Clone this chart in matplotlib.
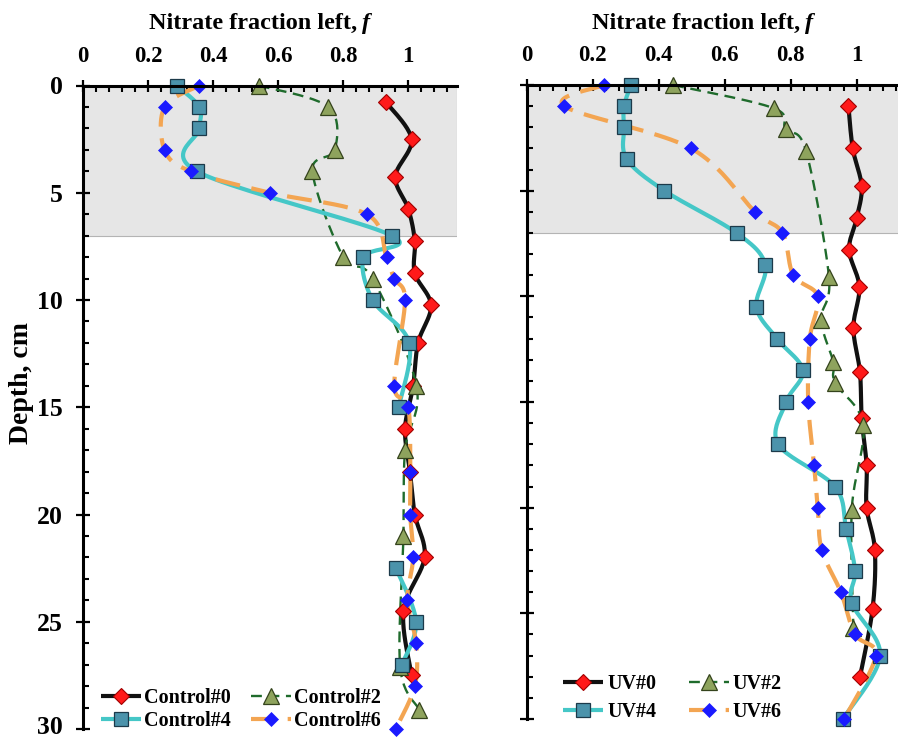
import numpy as np
import matplotlib
matplotlib.use("Agg")
import matplotlib.pyplot as plt
from matplotlib.lines import Line2D
from matplotlib.ticker import MultipleLocator, FixedLocator

plt.rcParams['font.family'] = ['Liberation Serif', 'DejaVu Serif']
plt.rcParams['font.weight'] = 'bold'

# ---------------- data ----------------
# Control panel
c0_depth = [0.75, 2.5, 4.25, 5.75, 7.25, 8.75, 10.25, 12, 14, 16, 18, 20, 22, 24.5, 27.5]
c0_f     = [0.93, 1.01, 0.96, 1.0, 1.02, 1.02, 1.07, 1.03, 1.015, 0.99, 1.005, 1.02, 1.05, 0.985, 1.01]

c2_depth = [0, 1, 3, 4, 8, 9, 14, 17, 21, 27.1, 29.1]
c2_f     = [0.54, 0.754, 0.774, 0.705, 0.80, 0.89, 1.025, 0.99, 0.985, 0.975, 1.034]

c4_depth = [0, 1, 2, 4, 7, 8, 10, 12, 15, np.nan, 22.5, 25, 27]
c4_f     = [0.287, 0.357, 0.357, 0.349, 0.949, 0.862, 0.89, 1.003, 0.97, np.nan, 0.962, 1.024, 0.98]

c6_depth = [0, 1, 3, 4, 5, 6, 8, 9, 10, 14, 15, 18, 20, 22, 24, 26, 28, 30]
c6_f     = [0.357, 0.25, 0.25, 0.331, 0.574, 0.872, 0.933, 0.956, 0.99, 0.957, 1.0, 1.006, 1.006, 1.015, 0.997, 1.024, 1.02, 0.961]

# UV panel
u0_depth = [1.0, 3.0, 4.8, 6.3, 7.8, 9.55, 11.5, 13.6, 15.75, 18.0, 20.0, 22.0, 24.8, 28.0]
u0_f     = [0.975, 0.988, 1.015, 1.0, 0.977, 1.008, 0.99, 1.01, 1.015, 1.03, 1.03, 1.055, 1.048, 1.01]

u2_depth = [0, 1.1, 2.1, 3.1, 9.1, 11.1, 13.1, 14.1, 16.1, 20.1, 25.7]
u2_f     = [0.444, 0.749, 0.785, 0.846, 0.916, 0.892, 0.929, 0.935, 1.02, 0.985, 0.99]

u4_depth = [0, 1, 2, 3.5, 5, 7, 8.5, 10.5, 12, 13.5, 15, 17, 19, 21, 23, 24.5, 27, 30]
u4_f     = [0.316, 0.295, 0.295, 0.303, 0.417, 0.636, 0.723, 0.696, 0.758, 0.837, 0.786, 0.762, 0.934, 0.968, 0.995, 0.985, 1.071, 0.958]

u6_depth = [0, 1, 3, 6, 7, 9, 10, 12, 15, 18, 20, 22, 24, 26, 27, 30]
u6_f     = [0.235, 0.114, 0.498, 0.692, 0.775, 0.808, 0.882, 0.858, 0.853, 0.871, 0.882, 0.894, 0.952, 0.995, 1.058, 0.962]

ctrl_labels = ['Control#0', 'Control#2', 'Control#4', 'Control#6']
uv_labels = ['UV#0', 'UV#2', 'UV#4', 'UV#6']
x_ticks = [0, 0.2, 0.4, 0.6, 0.8, 1]
x_ticklabels = ['0', '0.2', '0.4', '0.6', '0.8', '1']
y_ticks = [0, 5, 10, 15, 20, 25, 30]
y_ticklabels = ['0', '5', '10', '15', '20', '25', '30']
title_text = 'Nitrate fraction left,'
ylabel_text = 'Depth, cm'
shade_depth = 7

# ---------------- styles ----------------
styles = [
    dict(color='#111111', lw=3.0, ls='-', dashes=None,
         marker='D', ms=8.2, mfc='#ff1a1a', mec='#a00000', mew=0.8),
    dict(color='#1f6b2c', lw=1.7, ls='--', dashes=(4.6, 2.8),
         marker='^', ms=11.5, mfc='#8ea35d', mec='#34431c', mew=0.9),
    dict(color='#45c7c7', lw=3.0, ls='-', dashes=None,
         marker='s', ms=9.8, mfc='#4b93ab', mec='#1c3a4a', mew=0.9),
    dict(color='#f3a552', lw=3.0, ls='--', dashes=(6, 2.8),
         marker='D', ms=7.6, mfc='#1a1aff', mec='#1a1aff', mew=0.5),
]


def smooth(xs, ys, sx, sy, n=24):
    """Bezier (Catmull-Rom style) smoothing like spreadsheet smoothed lines."""
    xs = np.asarray(xs, float)
    ys = np.asarray(ys, float)
    outx, outy = [], []
    good = ~(np.isnan(xs) | np.isnan(ys))
    idx = np.where(good)[0]
    segs = np.split(idx, np.where(np.diff(idx) != 1)[0] + 1)
    for seg in segs:
        if len(seg) < 2:
            continue
        P = np.column_stack([xs[seg] * sx, ys[seg] * sy])
        pts = []
        t = np.linspace(0, 1, n)[:, None]
        for i in range(len(P) - 1):
            p0 = P[i - 1] if i > 0 else P[i]
            p1, p2 = P[i], P[i + 1]
            p3 = P[i + 2] if i + 2 < len(P) else P[i + 1]
            c1 = p1 + (p2 - p0) / 6.0
            c2 = p2 - (p3 - p1) / 6.0
            b = ((1 - t) ** 3) * p1 + 3 * ((1 - t) ** 2) * t * c1 + 3 * (1 - t) * t ** 2 * c2 + t ** 3 * p2
            pts.append(b if i == 0 else b[1:])
        arr = np.vstack(pts)
        outx.extend(list(arr[:, 0] / sx) + [np.nan])
        outy.extend(list(arr[:, 1] / sy) + [np.nan])
    return np.array(outx), np.array(outy)


W, H = 898, 739
fig = plt.figure(figsize=(W / 100, H / 100), dpi=100)


def px_axes(x0, x1, y0, y1):
    return fig.add_axes([x0 / W, 1 - y1 / H, (x1 - x0) / W, (y1 - y0) / H])


XMAX = 1.15
ax1 = px_axes(83.3, 83.3 + 325 * XMAX, 85.5, 729)
ax2 = px_axes(526.7, 526.7 + 330 * XMAX, 85, 719)


def style_axes(ax, show_ylabels):
    ax.set_xlim(0, XMAX)
    ax.set_ylim(30, 0)
    ax.axhspan(0, shade_depth, facecolor='#e6e6e6', edgecolor='#b4b4b4', lw=0.8, zorder=0)
    ax.xaxis.tick_top()
    for s in ['bottom', 'right']:
        ax.spines[s].set_visible(False)
    for s in ['top', 'left']:
        ax.spines[s].set_linewidth(2.2)
        ax.spines[s].set_zorder(5)
    ax.set_xticks(x_ticks)
    ax.set_xticklabels(x_ticklabels)
    ax.xaxis.set_minor_locator(FixedLocator(np.arange(0.04, 1.14, 0.04)))
    ax.set_yticks(y_ticks)
    # the bottom label ("30") is drawn separately so that it stays inside the figure
    ax.set_yticklabels(y_ticklabels[:-1] + [''])
    ax.yaxis.set_minor_locator(MultipleLocator(1))
    ax.tick_params(axis='x', which='major', direction='inout', length=9, width=1.6,
                   labelsize=16.5, pad=9, top=True, bottom=False)
    ax.tick_params(axis='x', which='minor', direction='in', length=4, width=1.5,
                   top=True, bottom=False)
    ax.tick_params(axis='y', which='major', direction='inout', length=10, width=1.6,
                   labelsize=18.5, pad=10, left=True, right=False, labelleft=show_ylabels)
    ax.tick_params(axis='y', which='minor', direction='in', length=4.5, width=1.5,
                   left=True, right=False)
    for lab in ax.get_xticklabels() + ax.get_yticklabels():
        lab.set_fontweight('bold')
    ax.patch.set_alpha(0)


style_axes(ax1, True)
style_axes(ax2, False)

# last y tick label of the left panel, kept inside the figure
fig.text(62.5 / W, 0.5 / H, y_ticklabels[-1], ha='right', va='bottom',
         fontsize=18.5, fontweight='bold')


def draw(ax, series, labels, sx, sy):
    handles = []
    for (d, f), st, lab in zip(series, styles, labels):
        sxs, sys_ = smooth(f, d, sx, sy)
        ln, = ax.plot(sxs, sys_, color=st['color'], lw=st['lw'], ls=st['ls'],
                      solid_capstyle='butt', dash_capstyle='butt', zorder=2, clip_on=False)
        if st['dashes'] is not None:
            ln.set_dashes(st['dashes'])
    for (d, f), st, lab in zip(series, styles, labels):
        ax.plot(f, d, ls='none', marker=st['marker'], ms=st['ms'], mfc=st['mfc'],
                mec=st['mec'], mew=st['mew'], zorder=3, clip_on=False)
        h = Line2D([], [], color=st['color'], lw=st['lw'], ls=st['ls'], marker=st['marker'],
                   ms=st['ms'], mfc=st['mfc'], mec=st['mec'], mew=st['mew'],
                   dash_capstyle='butt', solid_capstyle='butt')
        if st['dashes'] is not None:
            h.set_dashes(st['dashes'])
        handles.append(h)
    return handles


h1 = draw(ax1, [(c0_depth, c0_f), (c2_depth, c2_f), (c4_depth, c4_f), (c6_depth, c6_f)],
          ctrl_labels, 325, 21.45)
h2 = draw(ax2, [(u0_depth, u0_f), (u2_depth, u2_f), (u4_depth, u4_f), (u6_depth, u6_f)],
          uv_labels, 330, 21.13)

order = [0, 2, 1, 3]
leg1 = fig.legend([h1[i] for i in order], [ctrl_labels[i] for i in order], ncol=2,
                  loc='lower left', bbox_to_anchor=(101 / W, 1 - 731 / H),
                  frameon=False, prop=dict(family='Liberation Serif', weight='bold', size=14.5),
                  handlelength=2.0, handletextpad=0.15, columnspacing=1.0,
                  labelspacing=0.15, borderpad=0, borderaxespad=0)
leg2 = fig.legend([h2[i] for i in order], [uv_labels[i] for i in order], ncol=2,
                  loc='lower left', bbox_to_anchor=(563 / W, 1 - 722 / H),
                  frameon=False, prop=dict(family='Liberation Serif', weight='bold', size=14.5),
                  handlelength=2.0, handletextpad=0.2, columnspacing=1.6,
                  labelspacing=0.4, borderpad=0, borderaxespad=0)

# titles
for xr, xf in [(357, 362), (800, 805)]:
    fig.text(xr / W, 1 - 29 / H, title_text, ha='right', va='baseline',
             fontsize=17.5, fontweight='bold')
    fig.text(xf / W, 1 - 29 / H, 'f', ha='left', va='baseline',
             fontsize=17.5, fontweight='bold', fontstyle='italic')

fig.text(22 / W, 1 - 383 / H, ylabel_text, rotation=90, ha='center', va='center',
         fontsize=20, fontweight='bold')

fig.savefig('out.png', dpi=100)
